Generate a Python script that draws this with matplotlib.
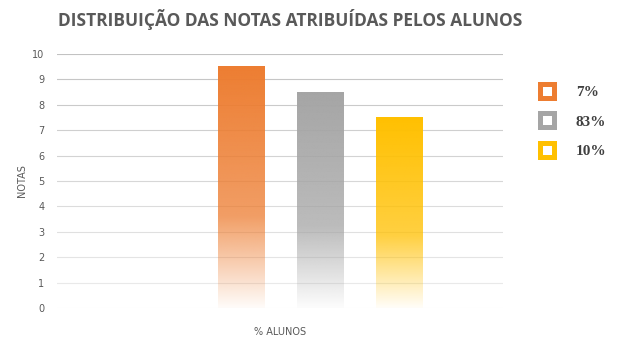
import numpy as np
import matplotlib
matplotlib.use("Agg")
import matplotlib.pyplot as plt
from matplotlib.colors import to_rgb
from matplotlib.lines import Line2D

title = "DISTRIBUIÇÃO DAS NOTAS ATRIBUÍDAS PELOS ALUNOS"
labels = ["7%", "83%", "10%"]
notas = [9.5, 8.5, 7.5]
colors = ["#ED7D31", "#A5A5A5", "#FFC000"]
yticks = list(range(0, 11))

fig = plt.figure(figsize=(6.2, 3.49), dpi=100)
ax = fig.add_axes([0.092, 0.1175, 0.719, 0.7278])

width = 0.595
for i, (v, c) in enumerate(zip(notas, colors)):
    # gradient: solid at top, fading to white near the bottom
    t = np.linspace(0, 1, 200)
    alpha = np.where(t < 0.62, 1 - 0.25 * t / 0.62, 0.75 - 0.72 * (t - 0.62) / 0.38)
    rgba = np.zeros((200, 1, 4))
    rgba[:, 0, :3] = to_rgb(c)
    rgba[:, 0, 3] = alpha
    ax.imshow(rgba, extent=[i - width / 2, i + width / 2, 0, v],
              aspect="auto", origin="upper", zorder=3, interpolation="bilinear")

ax.set_xlim(-2.335, 3.316)
ax.set_ylim(0, 10)
ax.set_yticks(yticks)
ax.set_xticks([])
for y in yticks:
    g = 0.76 + 0.17 * (10 - y) / 10
    ax.axhline(y, color=(g, g, g), lw=0.8, zorder=1)
for s in ax.spines.values():
    s.set_visible(False)
ax.tick_params(axis="y", length=0, pad=9, labelsize=7, labelcolor="#595959")
ax.set_ylabel("NOTAS", fontsize=7, color="#595959", labelpad=4)
ax.set_xlabel("% ALUNOS", fontsize=7, color="#595959", labelpad=14)

fig.text(0.468, 0.945, title, ha="center", va="center", fontsize=12.5,
         fontweight="bold", color="#595959", family="Open Sans")

handles = [Line2D([], [], marker="s", linestyle="none", markersize=10,
                  markerfacecolor="white", markeredgecolor=c, markeredgewidth=3.6)
           for c in colors]
fig.legend(handles, labels, loc="upper left", bbox_to_anchor=(0.835, 0.795),
           frameon=False, handletextpad=0.9, labelspacing=1.05,
           prop={"family": "Liberation Serif", "weight": "bold", "size": 11},
           labelcolor="#404040")

fig.savefig("out.png", dpi=100)
